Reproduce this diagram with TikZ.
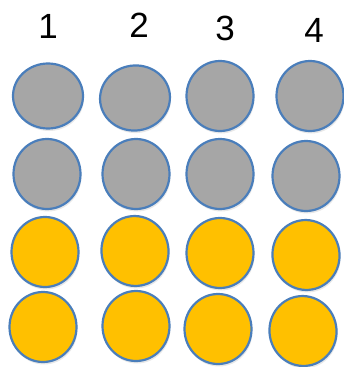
\documentclass[tikz,border=0pt]{standalone}
\usepackage{fontspec}
\setmainfont{Liberation Sans}
\usetikzlibrary{shapes.geometric,shadows}
\definecolor{dotgray}{RGB}{166,166,166}
\definecolor{dotgold}{RGB}{255,192,0}
\definecolor{rimblue}{RGB}{74,126,187}
\tikzset{
  dot/.style={ellipse, draw=rimblue, line width=2.2pt, inner sep=0pt,
              minimum width=67pt, minimum height=70pt,
              drop shadow={opacity=0.18, shadow xshift=1pt, shadow yshift=-2.5pt}},
  graydot/.style={dot, fill=dotgray},
  golddot/.style={dot, fill=dotgold},
  colnum/.style={font=\fontsize{35}{35}\selectfont, inner sep=0pt},
}

\begin{document}
\begin{tikzpicture}[x=1pt,y=-1pt]
  \useasboundingbox (0,0) rectangle (344,367);
  % column numbers
  \node[colnum] (n1) at (48,26) {1};
  \node[colnum] (n2) at (139,25) {2};
  \node[colnum] (n3) at (225,28) {3};
  \node[colnum] (n4) at (314,30) {4};
  % gray rows
  \node[graydot, minimum width=70pt, minimum height=65pt] (g11) at (48,96) {};
  \node[graydot, minimum width=70pt, minimum height=65pt, rotate=8] (g12) at (135,98) {};
  \node[graydot] (g13) at (220,96) {};
  \node[graydot] (g14) at (310,96) {};
  \node[graydot] (g21) at (47,174) {};
  \node[graydot] (g22) at (136,174) {};
  \node[graydot] (g23) at (220,174) {};
  \node[graydot] (g24) at (306,176) {};
  % gold rows
  \node[golddot] (y31) at (45,252) {};
  \node[golddot, rotate=10] (y32) at (135,251) {};
  \node[golddot] (y33) at (220,253) {};
  \node[golddot, rotate=10] (y34) at (306,255) {};
  \node[golddot] (y41) at (43,327) {};
  \node[golddot] (y42) at (136,326) {};
  \node[golddot] (y43) at (218,329) {};
  \node[golddot, rotate=10] (y44) at (303,331) {};
\end{tikzpicture}
\end{document}
